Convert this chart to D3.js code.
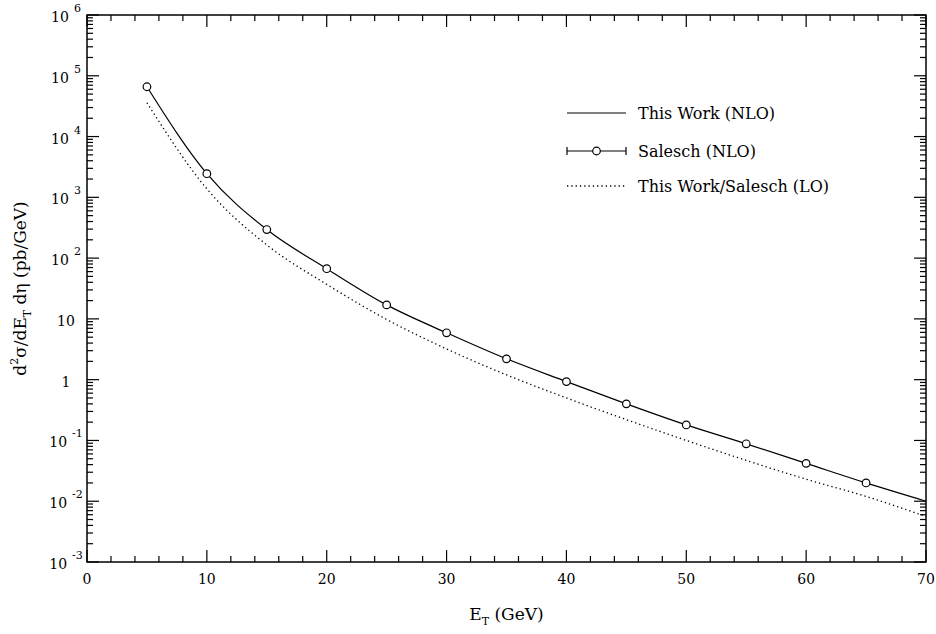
<!DOCTYPE html>
<html lang="en">
<head>
<meta charset="UTF-8">
<title>d2sigma/dET deta</title>
<script src="https://d3js.org/d3.v7.min.js"></script>
<style>
  html, body { margin: 0; padding: 0; background: #fff; }
  svg { display: block; font-family: "DejaVu Serif", "Liberation Serif", serif; }
  .frame { fill: none; stroke: #000; stroke-width: 1.5px; }
  .tick-line { stroke: #000; stroke-width: 1.2px; }
  .nlo { fill: none; stroke: #000; stroke-width: 1.2px; }
  .lo { fill: none; stroke: #000; stroke-width: 1.3px; stroke-dasharray: 1.3,3; }
  .pt { fill: #fff; stroke: #000; stroke-width: 1.2px; }
</style>
</head>
<body>
<svg width="936" height="634"></svg>
<script>
// E_T grid (GeV)
const etGrid = [5, 10, 15, 20, 25, 30, 35, 40, 45, 50, 55, 60, 65, 70];
// This Work (NLO), pb/GeV
const thisWorkNLO = [66000, 2450, 295, 67, 17, 5.9, 2.2, 0.93, 0.40, 0.18, 0.088, 0.042, 0.020, 0.0100];
// This Work/Salesch (LO)
const loValues = [36000, 1380, 165, 37, 9.8, 3.2, 1.2, 0.50, 0.22, 0.100, 0.047, 0.023, 0.012, 0.0056];
// Salesch (NLO) points
const saleschE = [5, 10, 15, 20, 25, 30, 35, 40, 45, 50, 55, 60, 65];
const saleschNLO = [66000, 2450, 295, 67, 17, 5.9, 2.2, 0.93, 0.40, 0.18, 0.088, 0.042, 0.020];

const xTicks = [0, 10, 20, 30, 40, 50, 60, 70];
const yDecades = [-3, -2, -1, 0, 1, 2, 3, 4, 5, 6];
const legendLabels = ["This Work (NLO)", "Salesch (NLO)", "This Work/Salesch (LO)"];

const svg = d3.select("svg");
const margin = {left: 87, top: 15, right: 10, bottom: 72};
const W = 936, H = 634;

const x = d3.scaleLinear().domain([0, 70]).range([margin.left, W - margin.right]);
const y = d3.scaleLog().domain([1e-3, 1e6]).range([H - margin.bottom, margin.top]);

const x0 = x.range()[0], x1 = x.range()[1], y0 = y.range()[0], y1 = y.range()[1];

// ticks (inward on all four sides)
const ticks = svg.append("g");
function tick(x1_, y1_, x2_, y2_) {
  ticks.append("line").attr("class", "tick-line")
    .attr("x1", x1_).attr("y1", y1_).attr("x2", x2_).attr("y2", y2_);
}
d3.range(0, 71, 2).forEach(v => {
  const len = v % 10 === 0 ? 12 : 6;
  tick(x(v), y0, x(v), y0 - len);
  tick(x(v), y1, x(v), y1 + len);
});
yDecades.forEach(d => {
  const v = Math.pow(10, d);
  tick(x0, y(v), x0 + 12, y(v));
  tick(x1, y(v), x1 - 12, y(v));
  if (d < 6) {
    d3.range(2, 10).forEach(m => {
      const vv = m * v;
      tick(x0, y(vv), x0 + 6, y(vv));
      tick(x1, y(vv), x1 - 6, y(vv));
    });
  }
});

svg.append("rect").attr("class", "frame")
  .attr("x", x0).attr("y", y1).attr("width", x1 - x0).attr("height", y0 - y1);

// x tick labels
svg.append("g").selectAll("text").data(xTicks).enter().append("text")
  .attr("x", d => x(d)).attr("y", y0 + 22)
  .attr("text-anchor", "middle").attr("font-size", 14)
  .text(d => d);

// y tick labels
const yl = svg.append("g").selectAll("text").data(yDecades).enter().append("text")
  .attr("x", 66).attr("y", d => y(Math.pow(10, d)) + 7)
  .attr("text-anchor", "middle").attr("font-size", 14);
yl.each(function(d) {
  const t = d3.select(this);
  if (d === 0) t.text("1");
  else if (d === 1) t.text("10");
  else {
    t.append("tspan").text("10");
    t.append("tspan").attr("font-size", 11).attr("dx", 5).attr("dy", -10).text(d);
  }
});

// axis titles
svg.append("text").attr("x", (x0 + x1) / 2).attr("y", 620)
  .attr("text-anchor", "middle").attr("font-size", 17)
  .call(t => {
    t.append("tspan").text("E");
    t.append("tspan").attr("font-size", 11).attr("dy", 5).text("T");
    t.append("tspan").attr("dy", -5).text(" (GeV)");
  });

svg.append("text")
  .attr("transform", `translate(26,${(y0 + y1) / 2}) rotate(-90)`)
  .attr("text-anchor", "middle").attr("font-size", 17)
  .call(t => {
    t.append("tspan").text("d");
    t.append("tspan").attr("font-size", 11).attr("dy", -8).text("2");
    t.append("tspan").attr("dy", 8).text("σ/dE");
    t.append("tspan").attr("font-size", 11).attr("dy", 5).text("T");
    t.append("tspan").attr("dy", -5).text(" dη (pb/GeV)");
  });

// curves
const line = d3.line().x(d => x(d[0])).y(d => y(d[1])).curve(d3.curveMonotoneX);
svg.append("path").attr("class", "nlo").attr("d", line(d3.zip(etGrid, thisWorkNLO)));
svg.append("path").attr("class", "lo").attr("d", line(d3.zip(etGrid, loValues)));

svg.append("g").selectAll("circle").data(d3.zip(saleschE, saleschNLO)).enter().append("circle")
  .attr("class", "pt").attr("r", 3.8)
  .attr("cx", d => x(d[0])).attr("cy", d => y(d[1]));

// legend
const lg = svg.append("g");
const lx1 = 567, lx2 = 626, rows = [113, 151, 186];
legendLabels.forEach((lab, i) => {
  const yy = rows[i];
  lg.append("line").attr("class", i === 2 ? "lo" : "nlo")
    .attr("x1", lx1).attr("x2", lx2).attr("y1", yy).attr("y2", yy);
  lg.append("text").attr("x", 638).attr("y", yy + 6).attr("font-size", 16).text(lab);
});
lg.append("line").attr("class", "nlo").attr("x1", lx1).attr("x2", lx1).attr("y1", rows[1] - 4).attr("y2", rows[1] + 4);
lg.append("line").attr("class", "nlo").attr("x1", lx2).attr("x2", lx2).attr("y1", rows[1] - 4).attr("y2", rows[1] + 4);
lg.append("circle").attr("class", "pt").attr("r", 3.8).attr("cx", (lx1 + lx2) / 2).attr("cy", rows[1]);
</script>
</body>
</html>
